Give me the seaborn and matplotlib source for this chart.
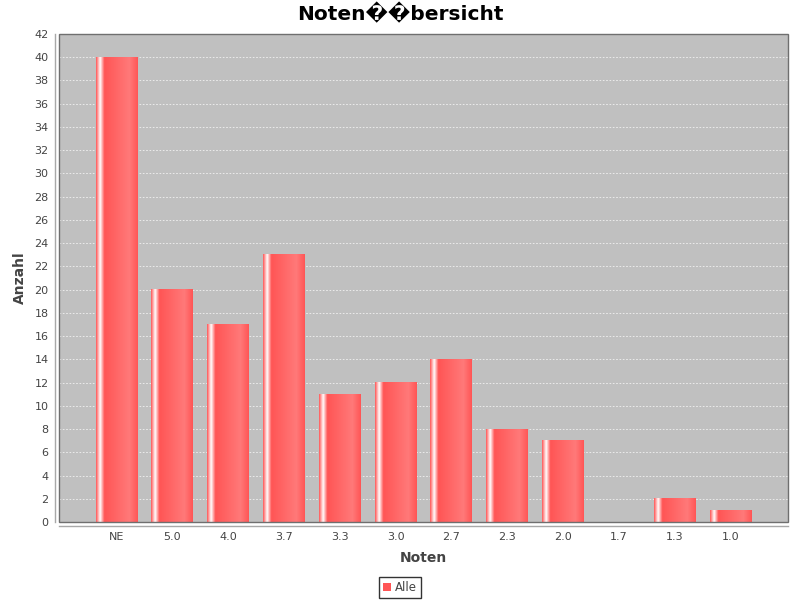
import numpy as np
import pandas as pd
import seaborn as sns
import matplotlib.pyplot as plt
from matplotlib.colors import LinearSegmentedColormap
from matplotlib.patches import Rectangle, Patch

# grade categories and counts
noten = ['NE', '5.0', '4.0', '3.7', '3.3', '3.0', '2.7', '2.3', '2.0', '1.7', '1.3', '1.0']
anzahl = [40, 20, 17, 23, 11, 12, 14, 8, 7, 0, 2, 1]
y_ticks = list(range(0, 43, 2))

BAR_RED = '#FF5555'
TEXT_GRAY = '#444444'

df = pd.DataFrame({'Noten': noten, 'Anzahl': anzahl})

sns.set_style('white')
plt.rcParams['font.family'] = ['DejaVu Sans']

fig = plt.figure(figsize=(8, 6), dpi=100)
ax = fig.add_axes([0.07375, 0.13, 0.91125, 0.8133])
ax.set_facecolor('#C0C0C0')

sns.barplot(data=df, x='Noten', y='Anzahl', color=BAR_RED, width=0.75,
            saturation=1, linewidth=0, ax=ax, zorder=2)

# gradient look of the bars (white highlight stripe near the left edge)
bar_cmap = LinearSegmentedColormap.from_list('bar', [
    (0.0, '#FF5555'), (0.1, '#FFFFFF'), (0.2, '#FF5555'),
    (0.8, '#FF7979'), (1.0, '#FF5555')])
grad = np.linspace(0, 1, 256).reshape(1, -1)
for bar in ax.patches:
    h = bar.get_height()
    if h <= 0:
        continue
    x0, y0, w = bar.get_x(), bar.get_y(), bar.get_width()
    ax.imshow(grad, cmap=bar_cmap, aspect='auto', interpolation='bilinear',
              extent=(x0, x0 + w, y0, y0 + h), zorder=3)

ax.set_xlim(-1.03, 12.03)
ax.set_ylim(0, 42)
ax.set_yticks(y_ticks)

ax.yaxis.grid(True, color='#F2F2F2', linestyle=(0, (2, 2)), linewidth=0.6, zorder=0)
ax.set_axisbelow(True)

# axis lines offset from the plot outline, outline drawn separately
for s in ['left', 'bottom']:
    ax.spines[s].set_position(('outward', 3))
    ax.spines[s].set_color('#A8A8A8')
    ax.spines[s].set_linewidth(1.0)
for s in ['top', 'right']:
    ax.spines[s].set_visible(False)
ax.add_patch(Rectangle((0, 0), 1, 1, transform=ax.transAxes, fill=False,
                       edgecolor='#6F6F6F', linewidth=1.0, zorder=5, clip_on=False))

ax.tick_params(axis='both', direction='out', length=2.5, width=0.8, color='#A8A8A8',
               labelsize=8, labelcolor=TEXT_GRAY, pad=2)

ax.set_xlabel('Noten', fontsize=10, fontweight='bold', color=TEXT_GRAY, labelpad=6)
ax.set_ylabel('Anzahl', fontsize=10, fontweight='bold', color=TEXT_GRAY, labelpad=5)

fig.suptitle('Noten\ufffd\ufffdbersicht', fontsize=14.5, fontweight='bold',
             color='black', y=0.995)

handles = [Patch(facecolor=BAR_RED, edgecolor='none', label='Alle')]
leg = fig.legend(handles=handles, loc='lower center', bbox_to_anchor=(0.5, 0.003),
                 fontsize=8.5, frameon=True, fancybox=False, handlelength=0.7,
                 handleheight=0.7, handletextpad=0.35, borderpad=0.35,
                 borderaxespad=0)
leg.get_frame().set_edgecolor('black')
leg.get_frame().set_linewidth(1.0)
for t in leg.get_texts():
    t.set_color(TEXT_GRAY)

fig.savefig('out.png', dpi=100)
